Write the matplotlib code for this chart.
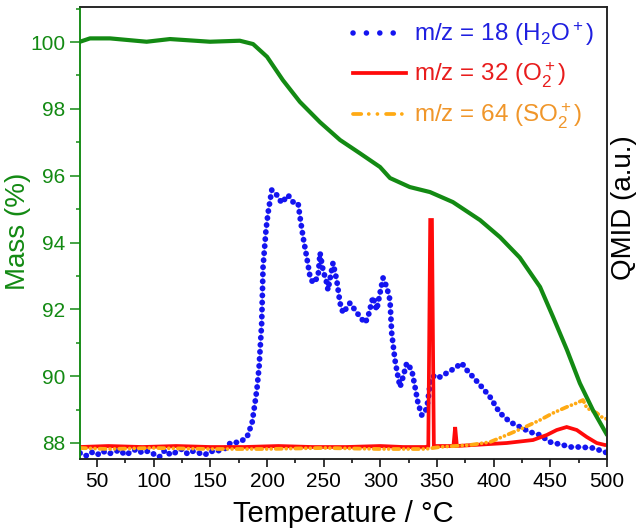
import numpy as np
import matplotlib
matplotlib.use("Agg")
import matplotlib.pyplot as plt
from matplotlib.lines import Line2D
from matplotlib.ticker import MultipleLocator, NullLocator

plt.rcParams['font.family'] = ['Liberation Sans', 'DejaVu Sans']
plt.rcParams['mathtext.fontset'] = 'custom'
plt.rcParams['mathtext.rm'] = 'Liberation Sans'
plt.rcParams['mathtext.it'] = 'Liberation Sans:italic'

# TG mass curve
t_mass = [35, 43.8, 61.5, 93.8, 114.4, 149.7, 176, 187.7, 200, 214, 229, 246.8,
          264.4, 282, 299.7, 308.5, 326, 343.8, 364, 388, 405.6, 423, 440.9,
          452.4, 464.7, 476, 487.6, 500]
mass = [100.01, 100.11, 100.11, 100.01, 100.09, 100.01, 100.04, 99.94, 99.56,
        98.86, 98.21, 97.6, 97.07, 96.67, 96.26, 95.93, 95.66, 95.51, 95.21,
        94.67, 94.16, 93.55, 92.67, 91.77, 90.78, 89.79, 88.98, 88.24]

# QMID m/z = 18 (H2O+)
t_h2o = [35, 40, 45, 50, 55, 60, 65, 70, 75, 80, 85, 90, 95, 100, 105, 110, 115,
         120, 125, 130, 135, 140, 145, 150, 155, 160, 165, 167.4, 176.2, 182.4,
         186.8, 189.4, 191.2, 193, 195.3, 196.5, 199.1, 200.9, 204.2, 208.6,
         213, 218.5, 223, 227.4, 229.1, 231.8, 235, 238, 240.6, 245, 246.8,
         249.4, 252.7, 253.8, 258.2, 261.5, 264.4, 267.1, 273.2, 277.6, 282.1,
         286.5, 289.1, 293.5, 296.8, 299.7, 302.4, 305.6, 308.5, 310, 312.9,
         315.6, 317.4, 320, 323.3, 327.7, 330.6, 333.2, 336.5, 339.4, 341.5,
         344.5, 348.2, 352.6, 358.6, 365.9, 371.8, 376.2, 381.8, 389.5, 396.8,
         403.8, 405.6, 414.4, 423.2, 432.1, 440.9, 449.7, 461.2, 467.4, 476.2,
         487.7, 498.2, 500]
h2o = [0.06, 0.03, 0.07, 0.04, 0.08, 0.05, 0.07, 0.09, 0.04, 0.07, 0.10, 0.06,
       0.08, 0.05, 0.02, 0.09, 0.04, 0.07, 0.10, 0.05, 0.08, 0.06, 0.04, 0.08,
       0.07, 0.10, 0.11, 0.16, 0.17, 0.22, 0.36, 0.56, 0.71, 0.92, 1.36, 1.92,
       2.29, 2.46, 2.69, 2.64, 2.56, 2.64, 2.57, 2.56, 2.42, 2.22, 2.02, 1.82,
       1.76, 1.82, 2.06, 1.89, 1.76, 1.69, 1.96, 1.79, 1.56, 1.46, 1.56, 1.49,
       1.42, 1.36, 1.42, 1.62, 1.49, 1.66, 1.81, 1.72, 1.59, 1.26, 0.99, 0.82,
       0.72, 0.82, 0.96, 0.89, 0.72, 0.56, 0.44, 0.46, 0.55, 0.80, 0.84, 0.82,
       0.86, 0.91, 0.96, 0.89, 0.82, 0.72, 0.62, 0.49, 0.46, 0.37, 0.32, 0.27,
       0.24, 0.17, 0.14, 0.12, 0.12, 0.11, 0.07, 0.06]

# QMID m/z = 32 (O2+)
t_o2 = [35, 60, 90, 120, 150, 180, 210, 240, 270, 300, 320, 340, 342.3, 344,
        345.5, 347.2, 350, 364.5, 366, 367.5, 381.8, 411.5, 434.7, 446.8, 455.6,
        464.4, 473.3, 482.1, 490.9, 498.2, 500]
o2 = [0.12, 0.13, 0.12, 0.13, 0.12, 0.12, 0.13, 0.12, 0.12, 0.13, 0.12, 0.12,
      0.13, 2.39, 2.39, 0.13, 0.13, 0.13, 0.32, 0.13, 0.14, 0.16, 0.19, 0.24,
      0.29, 0.32, 0.29, 0.22, 0.16, 0.14, 0.14]

# QMID m/z = 64 (SO2+)
t_so2 = [35, 60, 100, 150, 200, 250, 300, 340, 352.6, 379, 396.8, 411.5, 425.9,
         440.9, 452.4, 464.4, 473.3, 478.8, 482.1, 490.9, 496.5, 500]
so2 = [0.11, 0.10, 0.11, 0.10, 0.10, 0.11, 0.10, 0.10, 0.12, 0.14, 0.17, 0.24,
       0.31, 0.39, 0.46, 0.52, 0.56, 0.59, 0.51, 0.46, 0.41, 0.40]

green = '#138a13'
blue = '#1414f0'
red = '#ff0a0a'
orange = '#ffaa14'

fig = plt.figure(figsize=(6.4, 5.29), dpi=100)
ax = fig.add_axes([0.125, 0.1323, 0.8235, 0.8545])
ax2 = ax.twinx()

# mass axis on top of the QMID axis
ax.set_zorder(ax2.get_zorder() + 1)
ax.patch.set_visible(False)

ax.plot(t_mass, mass, color=green, lw=3.0, solid_capstyle='round')

ax2.plot(t_h2o, h2o, color='#8c8cff', lw=1.0, alpha=0.6)
ax2.plot(t_h2o, h2o, color=blue, lw=4.2, linestyle=(0, (0.01, 1.2)),
         dash_capstyle='round')
ax2.plot(t_o2, o2, color=red, lw=2.7, solid_joinstyle='miter')
ax2.plot(t_so2, so2, color=orange, lw=2.7,
         linestyle=(0, (1.6, 1.2, 0.01, 1.2, 0.01, 1.2)), dash_capstyle='round')

ax.set_xlim(35, 500)
ax.set_ylim(87.52, 101.05)
ax2.set_ylim(0, 4.52)

ax.xaxis.set_major_locator(MultipleLocator(50))
ax.xaxis.set_minor_locator(MultipleLocator(25))
ax.yaxis.set_major_locator(MultipleLocator(2))
ax.yaxis.set_minor_locator(MultipleLocator(1))
ax2.yaxis.set_major_locator(NullLocator())
ax2.yaxis.set_minor_locator(NullLocator())

ax.tick_params(axis='x', which='major', direction='out', length=5.5, width=1.1,
               labelsize=15, pad=4, colors='black')
ax.tick_params(axis='x', which='minor', direction='out', length=2.8, width=1.1)
ax.tick_params(axis='y', which='major', direction='out', length=7.5, width=1.1,
               labelsize=15, pad=3, colors=green)
ax.tick_params(axis='y', which='minor', direction='out', length=3, width=1.1,
               colors=green)

for a in (ax, ax2):
    for side in ('top', 'right', 'bottom'):
        a.spines[side].set_color('#222222')
        a.spines[side].set_linewidth(1.1)
    a.spines['left'].set_color(green)
    a.spines['left'].set_linewidth(1.1)

ax.set_xlabel('Temperature / °C', fontsize=21, labelpad=6)
ax.set_ylabel('Mass (%)', fontsize=20, color=green)
ax.yaxis.set_label_coords(-0.093, 0.504)
ax2.set_ylabel('QMID (a.u.)', fontsize=20, color='black')
ax2.yaxis.set_label_coords(1.0076, 0.557)

handles = [
    Line2D([], [], color=blue, lw=4.0, linestyle=(0, (0.01, 2.4)),
           dash_capstyle='round'),
    Line2D([], [], color=red, lw=2.7),
    Line2D([], [], color=orange, lw=2.7,
           linestyle=(0, (2.2, 2.0, 0.01, 2.3, 0.01, 2.3)), dash_capstyle='round'),
]
labels = [r'm/z = 18 (H$_2$O$^+$)', r'm/z = 32 (O$_2^+$)',
          r'm/z = 64 (SO$_2^+$)']
leg = ax.legend(handles, labels, loc='upper right', bbox_to_anchor=(1.0, 1.0),
                frameon=False, fontsize=17.5, handlelength=2.2, handletextpad=0.3,
                labelspacing=0.5, borderaxespad=0.15)
for txt, c in zip(leg.get_texts(), ['#1f1fe0', '#e81c1c', '#f0962a']):
    txt.set_color(c)

fig.savefig('out.png', dpi=100)
